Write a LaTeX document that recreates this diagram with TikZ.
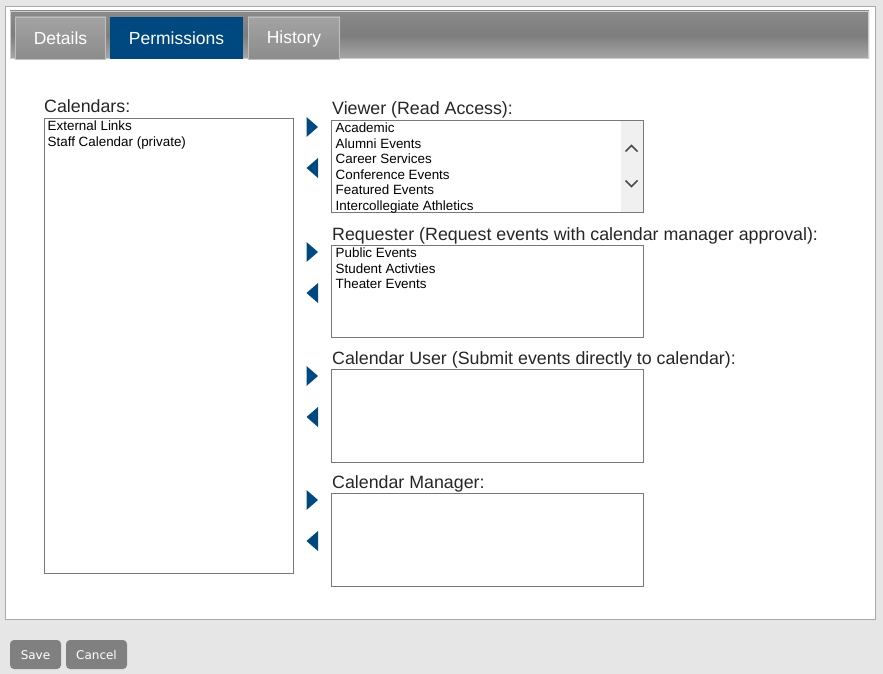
\documentclass[tikz,border=0pt]{standalone}
\usepackage{fontspec}
\setmainfont{Liberation Sans}
\newfontfamily\btnfont{DejaVu Sans}
\definecolor{pagegrey}{RGB}{230,230,230}
\definecolor{framegrey}{RGB}{170,170,170}
\definecolor{bartop}{RGB}{125,125,125}
\definecolor{barbot}{RGB}{168,168,168}
\definecolor{tabgrey}{RGB}{140,140,140}
\definecolor{tabblue}{RGB}{0,73,128}
\definecolor{boxline}{RGB}{120,120,120}
\definecolor{scrollgrey}{RGB}{240,240,240}
\definecolor{btngrey}{RGB}{128,128,128}
\tikzset{
  tabtext/.style={text=white,font=\fontsize{17.5}{20}\selectfont},
  caption/.style={anchor=base west,inner sep=0pt,text=black!85,font=\fontsize{17.8}{20}\selectfont},
  item/.style={anchor=base west,inner sep=0pt,font=\fontsize{13.4}{15}\selectfont},
  listbox/.style={draw=boxline,fill=white,line width=1pt},
  movearrow/.style={fill=tabblue,draw=none},
  btn/.style={fill=btngrey,rounded corners=4pt,draw=none}
}
\begin{document}
\begin{tikzpicture}[x=1pt,y=-1pt]
\useasboundingbox (0,0) rectangle (883,674);
\fill [pagegrey] (0,0) rectangle (883,674);
% panel
\draw [framegrey,fill=white,line width=1pt] (5.5,6.5) rectangle (875.5,619.5);
% tab bar
\shade [top color=bartop!90!white,bottom color=barbot,middle color=bartop] (10,11) rectangle (869,59);
\draw [black!20,line width=1pt] (10.5,11.5) rectangle (868.5,58.5);
\shade [top color=tabgrey!80!white,bottom color=tabgrey,middle color=tabgrey!90!white] (15,17) rectangle (106,59);
\draw [black!25] (15.5,17.5) rectangle (105.5,59);
\fill [tabblue] (110,17) rectangle (243,59);
\shade [top color=tabgrey!80!white,bottom color=tabgrey,middle color=tabgrey!90!white] (248,17) rectangle (340,59);
\draw [black!25] (248.5,17.5) rectangle (339.5,59);
\node [tabtext] (details) at (60.5,38.5) {Details};
\node [tabtext] (perms) at (176.5,38.5) {Permissions};
\node [tabtext] (history) at (294,38.5) {History};

% left list
\node [caption] (callabel) at (44,113) {Calendars:};
\draw [listbox] (44.5,118.5) rectangle (293.5,573.5);
\node [item] (ext) at (47.5,131) {External Links};
\node [item] (staff) at (47.5,146.5) {Staff Calendar (private)};

% right lists
\node [caption] (viewlabel) at (332,114.5) {Viewer (Read Access):};
\draw [listbox] (331.5,120.5) rectangle (643.5,212.5);
\fill [scrollgrey] (621,121) rectangle (643,212);
\draw [black!70,line width=1.6pt] (625.5,151.5)--(631.5,145.5)--(637.5,151.5);
\draw [black!70,line width=1.6pt] (625.5,180.5)--(631.5,186.5)--(637.5,180.5);
\node [item] (academic) at (335.5,132.5) {Academic};
\node [item] (alumni) at (335.5,148) {Alumni Events};
\node [item] (career) at (335.5,163.5) {Career Services};
\node [item] (conf) at (335.5,179) {Conference Events};
\node [item] (feat) at (335.5,194.5) {Featured Events};
\node [item] (athl) at (335.5,210) {Intercollegiate Athletics};

\node [caption] (reqlabel) at (332,240.5) {Requester (Request events with calendar manager approval):};
\draw [listbox] (331.5,245.5) rectangle (643.5,337.5);
\node [item] (public) at (335.5,257.5) {Public Events};
\node [item] (student) at (335.5,273) {Student Activties};
\node [item] (theater) at (335.5,288.5) {Theater Events};

\node [caption] (userlabel) at (332,364.5) {Calendar User (Submit events directly to calendar):};
\draw [listbox] (331.5,369.5) rectangle (643.5,462.5);

\node [caption] (mgrlabel) at (332,488.5) {Calendar Manager:};
\draw [listbox] (331.5,493.5) rectangle (643.5,586.5);

% move arrows
\foreach \y in {127,252,376,500}{
  \fill [movearrow] (306.5,\y-10)--(318,\y)--(306.5,\y+10)--cycle;
  \fill [movearrow] (318,\y+31)--(306.5,\y+41)--(318,\y+51)--cycle;
}

% buttons
\fill [btn] (10,640) rectangle (61,669);
\fill [btn] (66,640) rectangle (127,669);
\node [text=white,font=\btnfont\fontsize{12}{14}\selectfont] (save) at (35.5,655.5) {Save};
\node [text=white,font=\btnfont\fontsize{12}{14}\selectfont] (cancel) at (96.5,655.5) {Cancel};
\end{tikzpicture}
\end{document}
